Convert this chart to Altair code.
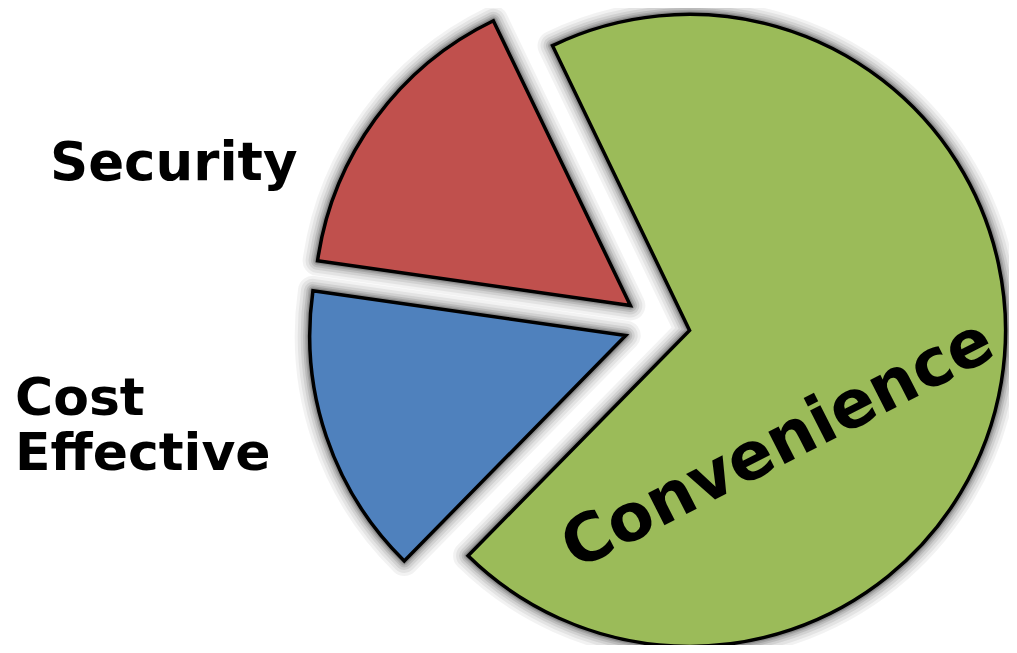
import math
import altair as alt
import pandas as pd

categories = ["Convenience", "Cost Effective", "Security"]
values = [69.5, 14.9, 15.6]
colors = ["#9BBB59", "#4F81BD", "#C0504D"]

df = pd.DataFrame({"category": categories, "value": values, "order": list(range(len(categories)))})

W, H = 1001, 637
CX, CY = 649, 317
EXPLODE = 33
R = 316
START = math.radians(-25.7)
FONT = "DejaVu Sans"

base = (
    alt.Chart(df)
    .transform_joinaggregate(total="sum(value)")
    .transform_window(cum="sum(value)", sort=[alt.SortField("order")], frame=[None, 0])
    .transform_calculate(
        t1=f"datum.cum / datum.total * 2 * PI + ({START})",
        t0=f"(datum.cum - datum.value) / datum.total * 2 * PI + ({START})",
    )
    .transform_calculate(mid="(datum.t0 + datum.t1) / 2")
    .transform_calculate(ex="sin(datum.mid)", ey="cos(datum.mid)")
)

enc = dict(
    theta=alt.Theta("t0:Q", scale=None),
    theta2="t1:Q",
    x=alt.X("ex:Q", scale=alt.Scale(domain=[-1, 1], range=[CX - EXPLODE, CX + EXPLODE]), axis=None),
    y=alt.Y("ey:Q", scale=alt.Scale(domain=[-1, 1], range=[CY + EXPLODE, CY - EXPLODE]), axis=None),
)

layers = []
for sw, op in [(30, 0.05), (24, 0.06), (18, 0.08), (13, 0.1), (9, 0.12), (6, 0.15)]:
    layers.append(
        base.mark_arc(radius=R, fillOpacity=0, stroke="black", strokeOpacity=op,
                      strokeWidth=sw, strokeJoin="round").encode(**enc)
    )

slices = base.mark_arc(radius=R, stroke="black", strokeWidth=3.5, strokeJoin="miter").encode(
    color=alt.Color("category:N", scale=alt.Scale(domain=categories, range=colors), legend=None),
    **enc,
)
layers.append(slices)


def label(txt, x, y, size=52, angle=0, align="left", baseline="alphabetic"):
    return alt.Chart(pd.DataFrame({"t": [txt]})).mark_text(
        font=FONT, fontWeight="bold", fontSize=size, color="black",
        align=align, baseline=baseline, angle=angle,
    ).encode(text="t:N", x=alt.value(x), y=alt.value(y))


layers.append(label("Security", 42, 172, size=53))
layers.append(label("Cost", 7, 407))
layers.append(label("Effective", 7, 462))
layers.append(label("Convenience", 770, 437, size=66, angle=333, align="center", baseline="middle"))

chart = alt.layer(*layers).properties(
    width=W, height=H, padding=0, autosize=alt.AutoSizeParams(type="none")
).configure_view(stroke=None)

chart.save("out.html", embed_options={"renderer": "svg", "actions": False})
